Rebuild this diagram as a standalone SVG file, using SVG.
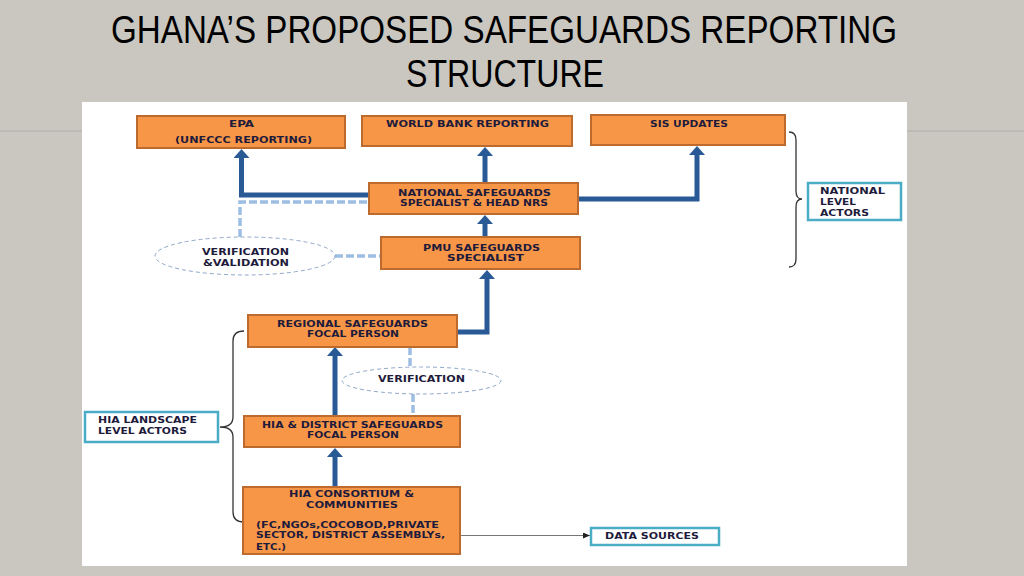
<svg xmlns="http://www.w3.org/2000/svg" width="1024" height="576" viewBox="0 0 1024 576">
<defs>
<style>
.box{fill:#f79646;stroke:#bd6a2e;stroke-width:2}
.cy{fill:#fff;stroke:#4bacc6;stroke-width:2.5}
.t{font-family:"DejaVu Sans","Liberation Sans",Arial,sans-serif;font-weight:bold;font-size:8.5px;fill:#1e1b3c}
.ar{fill:none;stroke:#2a5a96;stroke-width:5}
.da{fill:none;stroke:#9dbde2;stroke-width:3.5;stroke-dasharray:8,3}
.el{fill:#fff;stroke:#8fa8c8;stroke-width:1;stroke-dasharray:4,3}
.br{fill:none;stroke:#333;stroke-width:1.3}
.title{font-family:"Liberation Sans",Arial,sans-serif;font-size:39px;fill:#000}
</style>
<marker id="ah" viewBox="0 0 10 10" refX="0" refY="5" markerWidth="9" markerHeight="16" orient="auto" markerUnits="userSpaceOnUse" preserveAspectRatio="none">
<path d="M0,0 L10,5 L0,10 Z" fill="#2a5a96"/>
</marker>
<marker id="sa" viewBox="0 0 10 10" refX="10" refY="5" markerWidth="7" markerHeight="6" orient="auto" markerUnits="userSpaceOnUse" preserveAspectRatio="none">
<path d="M0,0 L10,5 L0,10 Z" fill="#222"/>
</marker>
</defs>
<rect x="0" y="0" width="1024" height="576" fill="#c9c7c0"/>
<line x1="0" y1="131" x2="1024" y2="131" stroke="#b0aea8" stroke-width="1"/>
<g id="title">
<text class="title" x="111" y="43" textLength="786" lengthAdjust="spacingAndGlyphs">GHANA’S PROPOSED SAFEGUARDS REPORTING</text>
<text class="title" x="406" y="87" textLength="198" lengthAdjust="spacingAndGlyphs">STRUCTURE</text>
</g>
<rect x="82" y="102" width="825" height="464" fill="#fff"/>
<g id="connectors">
<path class="da" d="M240,237 V202 H369"/>
<path class="da" d="M335,256 H381"/>
<path class="da" d="M410,347 V367"/>
<path class="da" d="M413,394 V416"/>
<path class="ar" d="M369,195 H241.5 V158" marker-end="url(#ah)"/>
<path class="ar" d="M485,183 V156" marker-end="url(#ah)"/>
<path class="ar" d="M578,199 H697 V155" marker-end="url(#ah)"/>
<path class="ar" d="M485,237 V224" marker-end="url(#ah)"/>
<path class="ar" d="M457,332 H487 V279" marker-end="url(#ah)"/>
<path class="ar" d="M335,416 V356" marker-end="url(#ah)"/>
<path class="ar" d="M335,487 V457" marker-end="url(#ah)"/>
<path d="M460,535.5 H590" stroke="#777" stroke-width="1.2" fill="none" marker-end="url(#sa)"/>
<path class="br" d="M789,132 Q796,132 796,140 V191 Q796,199 802,199 Q796,199 796,207 V259 Q796,267 789,267"/>
<path class="br" d="M244,331 Q233,331 233,341 V417 Q233,427 220,427 Q233,427 233,437 V512 Q233,522 244,522"/>
</g>
<g id="epa"><rect class="box" x="137" y="116" width="208" height="32"/>
<text class="t" x="229" y="127" textLength="25" lengthAdjust="spacingAndGlyphs">EPA</text>
<text class="t" x="175" y="143" textLength="137" lengthAdjust="spacingAndGlyphs">(UNFCCC REPORTING)</text></g>
<g id="worldbank"><rect class="box" x="362" y="116" width="210" height="30"/>
<text class="t" x="386" y="127" textLength="163" lengthAdjust="spacingAndGlyphs">WORLD BANK REPORTING</text></g>
<g id="sis"><rect class="box" x="591" y="115" width="194" height="30"/>
<text class="t" x="650" y="127" textLength="78" lengthAdjust="spacingAndGlyphs">SIS UPDATES</text></g>
<g id="national"><rect class="box" x="369" y="183" width="209" height="31"/>
<text class="t" x="398" y="196" textLength="153" lengthAdjust="spacingAndGlyphs">NATIONAL SAFEGUARDS</text>
<text class="t" x="400" y="206" textLength="148" lengthAdjust="spacingAndGlyphs">SPECIALIST &amp; HEAD NRS</text></g>
<g id="pmu"><rect class="box" x="381" y="237" width="199" height="32"/>
<text class="t" x="423" y="251" textLength="117" lengthAdjust="spacingAndGlyphs">PMU SAFEGUARDS</text>
<text class="t" x="447" y="261" textLength="77" lengthAdjust="spacingAndGlyphs">SPECIALIST</text></g>
<g id="verval"><ellipse class="el" cx="245" cy="256" rx="90" ry="19"/>
<text class="t" x="202" y="255" textLength="87" lengthAdjust="spacingAndGlyphs">VERIFICATION</text>
<text class="t" x="203" y="266" textLength="86" lengthAdjust="spacingAndGlyphs">&amp;VALIDATION</text></g>
<g id="natactors"><rect class="cy" x="808" y="183" width="93" height="37"/>
<text class="t" x="820" y="194" textLength="65" lengthAdjust="spacingAndGlyphs">NATIONAL</text>
<text class="t" x="820" y="205" textLength="36" lengthAdjust="spacingAndGlyphs">LEVEL</text>
<text class="t" x="820" y="216" textLength="49" lengthAdjust="spacingAndGlyphs">ACTORS</text></g>
<g id="regional"><rect class="box" x="248" y="315" width="209" height="32"/>
<text class="t" x="277" y="327" textLength="151" lengthAdjust="spacingAndGlyphs">REGIONAL SAFEGUARDS</text>
<text class="t" x="307" y="337" textLength="92" lengthAdjust="spacingAndGlyphs">FOCAL PERSON</text></g>
<g id="verification"><ellipse class="el" cx="421.5" cy="380.5" rx="79.5" ry="13.5"/>
<text class="t" x="378" y="382" textLength="87" lengthAdjust="spacingAndGlyphs">VERIFICATION</text></g>
<g id="district"><rect class="box" x="244" y="416" width="216" height="31"/>
<text class="t" x="262" y="428" textLength="181" lengthAdjust="spacingAndGlyphs">HIA &amp; DISTRICT SAFEGUARDS</text>
<text class="t" x="307" y="438" textLength="92" lengthAdjust="spacingAndGlyphs">FOCAL PERSON</text></g>
<g id="consortium"><rect class="box" x="243" y="487" width="217" height="67"/>
<text class="t" x="289" y="497" textLength="125" lengthAdjust="spacingAndGlyphs">HIA CONSORTIUM &amp;</text>
<text class="t" x="306" y="508" textLength="92" lengthAdjust="spacingAndGlyphs">COMMUNITIES</text>
<text class="t" x="256" y="528" textLength="183" lengthAdjust="spacingAndGlyphs">(FC,NGOs,COCOBOD,PRIVATE</text>
<text class="t" x="256" y="538" textLength="189" lengthAdjust="spacingAndGlyphs">SECTOR, DISTRICT ASSEMBLYs,</text>
<text class="t" x="256" y="550" textLength="30" lengthAdjust="spacingAndGlyphs">ETC.)</text></g>
<g id="hiaactors"><rect class="cy" x="85" y="412" width="133" height="30"/>
<text class="t" x="98" y="423" textLength="99" lengthAdjust="spacingAndGlyphs">HIA LANDSCAPE</text>
<text class="t" x="98" y="434" textLength="89" lengthAdjust="spacingAndGlyphs">LEVEL ACTORS</text></g>
<g id="datasources"><rect class="cy" x="591" y="528" width="128" height="17"/>
<text class="t" x="605" y="539" textLength="94" lengthAdjust="spacingAndGlyphs">DATA SOURCES</text></g>
</svg>
